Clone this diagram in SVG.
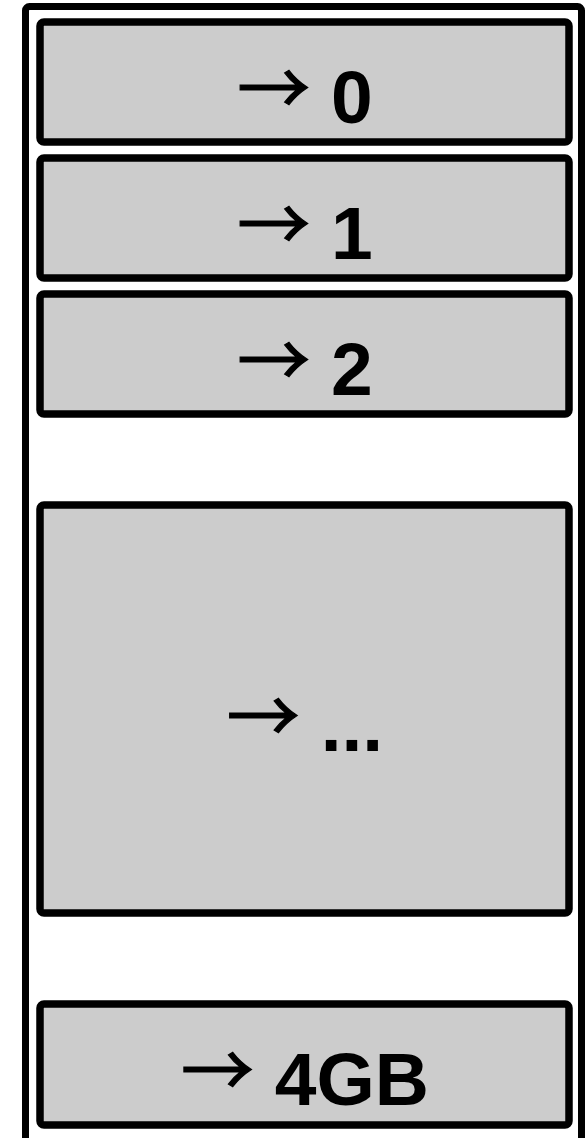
<svg xmlns="http://www.w3.org/2000/svg" width="585" height="1138" viewBox="0 0 585 1138">
<style>
.box{fill:#cccccc;stroke:#000;stroke-width:7.5}
.lbl{font-family:"Liberation Sans",Arial,sans-serif;font-size:75px;font-weight:bold;text-anchor:middle;fill:#000}
.arr{font-family:"Noto Sans CJK JP",sans-serif;font-weight:normal;font-size:73px;stroke:#000;stroke-width:1.2}
</style>
<rect x="0" y="0" width="585" height="1138" fill="#fff"/>
<g id="outer"><rect x="25.5" y="6.5" width="556" height="1140" rx="4" fill="none" stroke="#000" stroke-width="7"/></g>
<g id="n0"><rect class="box" x="40" y="22" width="529" height="120" rx="4"/><text class="lbl" x="305" y="123"><tspan class="arr" dy="-8">→</tspan><tspan dy="8"> 0</tspan></text></g>
<g id="n1"><rect class="box" x="40" y="158" width="529" height="120" rx="4"/><text class="lbl" x="305" y="259"><tspan class="arr" dy="-8">→</tspan><tspan dy="8"> 1</tspan></text></g>
<g id="n2"><rect class="box" x="40" y="294" width="529" height="120" rx="4"/><text class="lbl" x="305" y="395"><tspan class="arr" dy="-8">→</tspan><tspan dy="8"> 2</tspan></text></g>
<g id="n3"><rect class="box" x="40" y="505" width="529" height="408" rx="4"/><text class="lbl" x="305" y="751"><tspan class="arr" dy="-8">→</tspan><tspan dy="8"> ...</tspan></text></g>
<g id="n4"><rect class="box" x="40" y="1004" width="529" height="121" rx="4"/><text class="lbl" x="305" y="1105"><tspan class="arr" dy="-8">→</tspan><tspan dy="8"> 4GB</tspan></text></g>
<g id="connectors"/>
</svg>
